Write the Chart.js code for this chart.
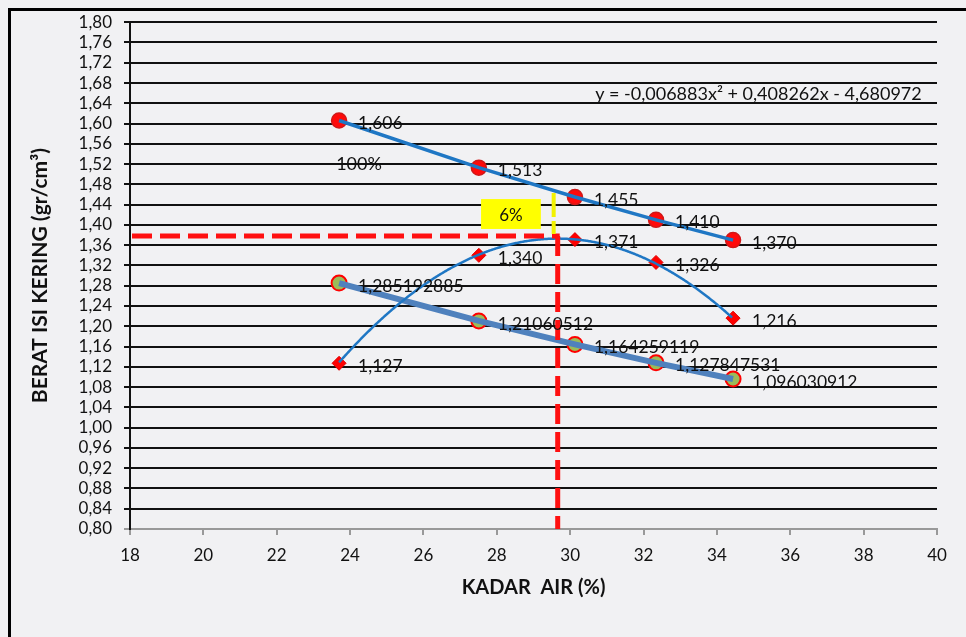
<!DOCTYPE html>
<html>
<head>
<meta charset="utf-8">
<script src="https://cdn.jsdelivr.net/npm/chart.js@4.4.1/dist/chart.umd.min.js"></script>
<style>
  html, body { margin: 0; padding: 0; background: #f1f1f3; }
  canvas { display: block; }
</style>
</head>
<body>
<canvas id="c" width="966" height="637"></canvas>
<script>
// ---- data ----
const moisture = [23.70, 27.51, 30.13, 32.34, 34.44];          // KADAR AIR (%)
const density100 = [1.606, 1.513, 1.455, 1.410, 1.370];          // 100% series
const densityDry = [1.127, 1.340, 1.371, 1.326, 1.216];          // compaction points
const densityLine3 = [1.285192885, 1.21060512, 1.164259119, 1.127847531, 1.096030912];
const trendCoef = [-0.006883, 0.408262, -4.680972];              // y = a x^2 + b x + c
const optimum = [29.66, 1.378];                                  // optimum moisture, max dry density
const yTicks = { min: 0.80, max: 1.80, step: 0.04 };
const xTicks = { min: 18, max: 40, step: 2 };
const equationText = 'y = -0,006883x² + 0,408262x - 4,680972';
const label100 = '100%';
const labelPct = '6%';

const FONT = 'Lato, "Open Sans", sans-serif';
const comma = (s) => s.replace('.', ',');

const pts = (ys) => moisture.map((x, i) => ({ x: x, y: ys[i] }));

// background + frame
const framePlugin = {
  id: 'frame',
  beforeDraw(chart) {
    const ctx = chart.ctx;
    ctx.save();
    ctx.fillStyle = '#f1f1f3';
    ctx.fillRect(0, 0, chart.width, chart.height);
    ctx.strokeStyle = '#000';
    ctx.lineWidth = 3;
    ctx.beginPath();
    ctx.moveTo(9.5, chart.height + 2);
    ctx.lineTo(9.5, 9.5);
    ctx.lineTo(chart.width + 2, 9.5);
    ctx.stroke();
    ctx.restore();
  }
};

// polynomial trendline + reference lines + annotations
const overlayPlugin = {
  id: 'overlay',
  afterDatasetsDraw(chart) {
    const ctx = chart.ctx;
    const xs = chart.scales.x, ys = chart.scales.y;
    const area = chart.chartArea;
    ctx.save();
    // trendline over x range of data
    const x0 = Math.min(...moisture), x1 = Math.max(...moisture);
    const p0 = xs.getPixelForValue(x0), p1 = xs.getPixelForValue(x1);
    ctx.beginPath();
    for (let px = p0; px <= p1 + 0.01; px += 1) {
      const xv = xs.getValueForPixel(Math.min(px, p1));
      const yv = trendCoef[0] * xv * xv + trendCoef[1] * xv + trendCoef[2];
      const py = ys.getPixelForValue(yv);
      if (px === p0) ctx.moveTo(px, py); else ctx.lineTo(px, py);
    }
    ctx.strokeStyle = '#1f77c4';
    ctx.lineWidth = 2.5;
    ctx.stroke();

    // red dashed optimum lines
    const ox = xs.getPixelForValue(optimum[0]);
    const oy = ys.getPixelForValue(optimum[1]);
    ctx.strokeStyle = '#ff1010';
    ctx.lineWidth = 5;
    ctx.setLineDash([20, 8]);
    ctx.beginPath();
    ctx.moveTo(area.left + 2, oy);
    ctx.lineTo(ox + 2, oy);
    ctx.stroke();
    ctx.beginPath();
    ctx.moveTo(ox, oy);
    ctx.lineTo(ox, area.bottom);
    ctx.stroke();

    // yellow dashed line + box
    const yx = xs.getPixelForValue(29.55);
    ctx.strokeStyle = '#f2f200';
    ctx.lineWidth = 4;
    ctx.setLineDash([24, 4]);
    ctx.beginPath();
    ctx.moveTo(yx, ys.getPixelForValue(1.463));
    ctx.lineTo(yx, ys.getPixelForValue(1.382));
    ctx.stroke();
    ctx.setLineDash([]);
    const bx0 = xs.getPixelForValue(27.57), bx1 = xs.getPixelForValue(29.20);
    const by0 = ys.getPixelForValue(1.451), by1 = ys.getPixelForValue(1.392);
    ctx.fillStyle = '#ffff00';
    ctx.fillRect(bx0, by0, bx1 - bx0, by1 - by0);
    ctx.fillStyle = '#111';
    ctx.font = '17px ' + FONT;
    ctx.textAlign = 'center';
    ctx.textBaseline = 'middle';
    ctx.fillText(labelPct, (bx0 + bx1) / 2, (by0 + by1) / 2 + 1);

    // equation and 100% text
    ctx.font = '18px ' + FONT;
    ctx.textAlign = 'left';
    ctx.fillText(equationText, xs.getPixelForValue(30.68), ys.getPixelForValue(1.657));
    ctx.fillText(label100, xs.getPixelForValue(23.62), ys.getPixelForValue(1.52));

    // data labels
    ctx.font = '17.5px ' + FONT;
    const labelSets = [
      { idx: 1, fmt: (v) => comma(v.toFixed(3)) },
      { idx: 2, fmt: (v) => comma(v.toFixed(3)) },
      { idx: 3, fmt: (v) => comma(String(v)) }
    ];
    ctx.fillStyle = '#111';
    labelSets.forEach(ls => {
      const meta = chart.getDatasetMeta(ls.idx);
      const data = chart.data.datasets[ls.idx].data;
      meta.data.forEach((el, i) => {
        ctx.fillText(ls.fmt(data[i].y), el.x + 19, el.y + 3);
      });
    });
    ctx.restore();
  }
};

const chart = new Chart(document.getElementById('c'), {
  type: 'scatter',
  data: {
    datasets: [
      { // line of 100% series drawn on top of markers
        label: 'line100', data: pts(density100), showLine: true,
        borderColor: '#1f77c4', borderWidth: 3.5, pointRadius: 0, order: 0
      },
      {
        label: '100%', data: pts(density100), showLine: false,
        pointStyle: 'circle', pointRadius: 7.5, backgroundColor: '#ff0a0a',
        borderColor: '#d01818', borderWidth: 1.5, order: 3
      },
      {
        label: 'Berat isi kering', data: pts(densityDry), showLine: false,
        pointStyle: 'rectRot', pointRadius: 7, backgroundColor: '#ff0000',
        borderColor: '#e00000', borderWidth: 1, order: 2
      },
      {
        label: 'line3', data: pts(densityLine3), showLine: false,
        pointStyle: 'circle', pointRadius: 7.5, backgroundColor: '#9bbb59',
        borderColor: '#ff0000', borderWidth: 2, order: 4
      },
      { // steel blue line over green markers
        label: 'line3line', data: pts(densityLine3), showLine: true,
        borderColor: '#4f81bd', borderWidth: 6, pointRadius: 0, order: 1
      }
    ]
  },
  options: {
    responsive: false,
    animation: false,
    devicePixelRatio: 1,
    layout: { padding: { left: 0, top: 22, right: 29, bottom: 0 } },
    plugins: { legend: { display: false }, tooltip: { enabled: false } },
    scales: {
      x: {
        type: 'linear', min: xTicks.min, max: xTicks.max,
        ticks: { stepSize: xTicks.step, autoSkip: false, maxRotation: 0, color: '#111',
          font: { family: FONT, size: 17 }, padding: 10 },
        grid: { drawOnChartArea: false, drawTicks: true, tickLength: 6, color: '#999', lineWidth: 2 },
        border: { color: '#999', width: 2 },
        title: { display: true, text: 'KADAR  AIR (%)', color: '#111',
          font: { family: FONT, size: 20, weight: 'bold' }, padding: { top: 0, bottom: 37 } },
        afterFit: (s) => { s.height = 108; }
      },
      y: {
        type: 'linear', min: yTicks.min, max: yTicks.max,
        ticks: { stepSize: yTicks.step, autoSkip: false, maxTicksLimit: 100, color: '#111',
          font: { family: FONT, size: 17 }, padding: 12,
          callback: (v) => comma(Number(v).toFixed(2)) },
        grid: { color: (c) => c.index === 0 ? '#999' : '#111', lineWidth: 2, tickLength: 6 },
        border: { color: '#111', width: 2 },
        title: { display: true, text: 'BERAT ISI KERING (gr/cm³)', color: '#111',
          font: { family: FONT, size: 21, weight: 'bold' }, padding: { top: 28, bottom: 0 } },
        afterFit: (s) => { s.width = 130; }
      }
    }
  },
  plugins: [framePlugin, overlayPlugin]
});
</script>
</body>
</html>
